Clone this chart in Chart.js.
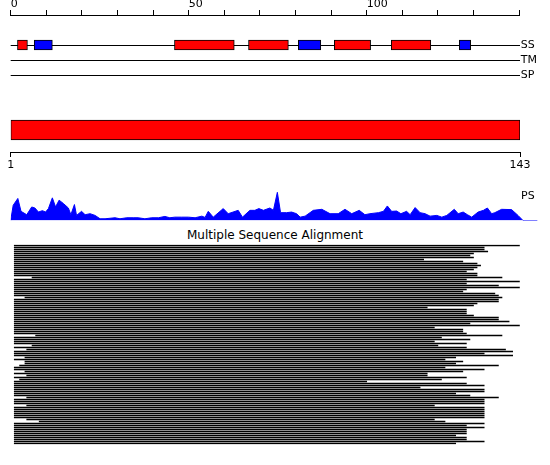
<!DOCTYPE html>
<html>
<head>
<meta charset="utf-8">
<script src="https://cdn.jsdelivr.net/npm/chart.js@4/dist/chart.umd.min.js"></script>
<style>
  body { margin: 0; background: #fff; }
  #wrap { position: relative; width: 550px; height: 465px; overflow: hidden; font-family: "DejaVu Sans", sans-serif; }
  canvas { position: absolute; left: 0; }
  .lbl { position: absolute; font-size: 11px; line-height: 13px; color: #000; white-space: nowrap; }
</style>
</head>
<body>
<div id="wrap">
  <canvas id="ssChart" width="550" height="90" style="top:0px"></canvas>
  <canvas id="domChart" width="550" height="77" style="top:100px"></canvas>
  <canvas id="psChart" width="550" height="40" style="top:185px"></canvas>
  <div class="lbl" style="left:521px; top:189px;">PS</div>
  <div class="lbl" style="left:0; width:550px; top:229px; text-align:center; font-size:12px;">Multiple Sequence Alignment</div>
  <canvas id="msaChart" width="550" height="210" style="top:240px"></canvas>
</div>
<script>
const SEQ_LENGTH = 143;
const TRACKS = ['SS', 'TM', 'SP'];

// secondary structure elements (H = helix, E = strand)
const SS_START = [1.9, 6.6, 46, 66.8, 80.8, 90.9, 106.9, 126];
const SS_END = [4.7, 11.7, 62.8, 78, 87.1, 101.1, 118, 129.2];
const SS_TYPE = ['H', 'E', 'H', 'H', 'E', 'H', 'H', 'E'];

const DOMAIN = [1, 143];

// PS profile
const PS_POS = [0, 0.7, 2, 2.9, 4.5, 5.9, 6.8, 7.8, 8.9, 9.8, 10.6, 11.7, 12.6, 13.6, 14.8, 16.2, 16.9, 17.9, 18.5, 19.9,
  20.9, 22.3, 23.7, 25.1, 26.5, 29.3, 30.7, 32.6, 34.4, 35.8, 37.7, 39.6, 41.5, 43.3, 44.7, 46.1, 48, 49.9, 51.8, 53.7,
  54.6, 55.5, 56.9, 59.7, 61.1, 63.9, 65.1, 67.2, 68.6, 69.7, 71, 72.8, 73.8, 74.9, 75.8, 77.5, 78.9, 80.3, 81.3, 82.7,
  85, 87.4, 89.7, 92, 93.9, 95.8, 97.9, 99.5, 100.9, 103.3, 104.7, 105.8, 107, 108.4, 109.6, 111.2, 112.2, 113.6, 115, 116.4,
  117.8, 119.7, 121.1, 122.5, 124.6, 125.7, 127.1, 128.3, 129.5, 131.3, 132.8, 133.9, 135.1, 136, 137.9, 140.7, 142.5, 143.9, 148];
const PS_VAL = [0, 15, 21.7, 9, 5.7, 13.3, 12.3, 8.3, 9.7, 8.3, 11.7, 22.3, 13.3, 20, 16.7, 12.3, 5.7, 15.7, 5, 9,
  5.7, 6.7, 5, 1.7, 1.7, 2.7, 1.7, 2.7, 2.7, 2.7, 1.7, 2.7, 2.7, 4, 2.7, 3.3, 3.3, 3.3, 2.7, 4.3,
  3, 9, 3.3, 11.7, 6.7, 10, 3.3, 10, 10, 11.7, 10, 12.3, 10, 27.7, 7.7, 7.7, 8.3, 6.7, 3.3, 4.3,
  10, 11, 6.7, 6.7, 11, 6.7, 10, 5.7, 6.7, 7.7, 9, 14.3, 9, 9.3, 6.7, 9, 5.7, 12.7, 7.7, 6.7,
  4.3, 5, 3.3, 5, 11, 6.7, 8.3, 5.7, 3.3, 8.3, 10, 12.3, 6.7, 7.7, 11, 10.7, 5, 0, 0];

// alignment hits: start / end residue
const MSA_START = [
  1, 1, 1, 1, 1, 1, 1, 1, 1, 1,
  1, 1, 1, 1, 1, 1, 6, 1, 1, 1,
  1, 1, 1, 1, 1, 1, 4, 1, 1, 1,
  1, 1, 1, 1, 1, 1, 1, 1, 1, 1,
  1, 1, 1, 1, 1, 7, 1, 1, 1, 1,
  6, 1, 4.5, 1, 1, 1, 4, 1, 4, 4,
  2.5, 1, 1, 4, 1, 4.5, 1, 2.5, 1, 1,
  1, 1, 1, 1, 1, 1, 4.5, 1, 1, 1,
  4.5, 1, 1, 1, 1, 1, 1, 4.5, 8, 1,
  1, 1, 1, 1, 1, 1, 1, 1, 1, 1];
const MSA_END = [
  143, 133, 133, 134, 130, 129, 130, 116, 127, 131,
  132, 131, 130, 128, 131, 131, 138, 128, 143, 128,
  137, 143, 128, 127, 136, 137, 138, 137, 137, 131,
  130, 117, 128, 128, 128, 130, 137, 137, 140, 129,
  143, 119, 127, 127, 128, 138, 121, 129, 119, 128,
  120, 128, 139, 141, 133, 141, 125, 122, 127, 125,
  137, 122, 133, 127, 117, 117, 128, 121, 100, 128,
  133, 115, 133, 133, 125, 129, 137, 133, 133, 133,
  119, 133, 133, 133, 133, 133, 133, 119, 122, 133,
  128, 133, 128, 128, 128, 125, 128, 128, 133, 125];

const font = { family: 'DejaVu Sans', size: 11 };
const noPlugins = { legend: { display: false }, tooltip: { enabled: false } };

// top ruler + SS / TM / SP tracks
new Chart(document.getElementById('ssChart'), {
  type: 'bar',
  data: {
    datasets: [{
      data: SS_START.map((s, i) => ({ x: [s, SS_END[i]], y: 1 })),
      backgroundColor: SS_TYPE.map(t => t === 'H' ? '#ff0000' : '#0000ff'),
      borderColor: '#000',
      borderWidth: 1,
      borderSkipped: false,
      barThickness: 10
    }]
  },
  options: {
    indexAxis: 'y',
    responsive: false,
    animation: false,
    layout: { padding: { left: 10.7, top: 0, right: 0, bottom: 0 } },
    plugins: noPlugins,
    scales: {
      x: {
        type: 'linear', position: 'top', min: 0, max: SEQ_LENGTH,
        ticks: {
          stepSize: 10, align: 'start', padding: -1, color: '#000', font: font,
          maxRotation: 0, autoSkip: false,
          callback: v => (v % 50 === 0 ? v : '')
        },
        grid: { drawOnChartArea: false, tickLength: 5, color: '#000' },
        border: { color: '#000' },
        afterFit: s => { s.height = 15; s.paddingLeft = 0; s.paddingRight = 0; }
      },
      y: {
        type: 'linear', position: 'right', reverse: true, min: -1, max: 4, offset: false,
        afterBuildTicks: s => { s.ticks = TRACKS.map((_, i) => ({ value: i + 1 })); },
        ticks: { callback: v => TRACKS[v - 1], padding: 1, color: '#000', font: font },
        grid: { color: '#000', drawTicks: false, offset: false },
        border: { display: false },
        afterFit: s => {
          s.width = 550 - (10.7 + SEQ_LENGTH * 3.56);
          s.paddingTop = 0;
          s.paddingBottom = 0;
        }
      }
    }
  }
});

// domain bar with 1..143 axis
new Chart(document.getElementById('domChart'), {
  type: 'bar',
  data: {
    labels: ['domain'],
    datasets: [{
      data: [DOMAIN],
      backgroundColor: '#ff0000',
      borderColor: '#000',
      borderWidth: 1,
      borderSkipped: false,
      barThickness: 20
    }]
  },
  options: {
    indexAxis: 'y',
    responsive: false,
    animation: false,
    layout: { padding: { left: 10.7, top: 8, right: 30, bottom: 0 } },
    plugins: noPlugins,
    scales: {
      x: {
        type: 'linear', position: 'bottom', min: DOMAIN[0], max: DOMAIN[1],
        afterBuildTicks: s => { s.ticks = DOMAIN.map(v => ({ value: v })); },
        ticks: { padding: 2, color: '#000', font: font, maxRotation: 0, autoSkip: false },
        grid: { drawOnChartArea: false, tickLength: 5, color: '#000' },
        border: { color: '#000' },
        afterFit: s => { s.height = 25; s.paddingLeft = 0; s.paddingRight = 0; }
      },
      y: { display: false }
    }
  }
});

// PS profile
new Chart(document.getElementById('psChart'), {
  type: 'line',
  data: {
    datasets: [{
      data: PS_POS.map((p, i) => ({ x: p, y: PS_VAL[i] })),
      borderColor: '#0000ff',
      backgroundColor: '#0000ff',
      borderWidth: 1,
      fill: 'origin',
      pointRadius: 0,
      tension: 0
    }]
  },
  options: {
    responsive: false,
    animation: false,
    layout: { padding: { left: 10.7, top: 5, right: 550 - (10.7 + 148 * 3.56), bottom: 4.5 } },
    plugins: noPlugins,
    scales: {
      x: { type: 'linear', min: 0, max: 148, display: false },
      y: { type: 'linear', min: 0, max: 30, display: false }
    }
  }
});

// multiple sequence alignment hits
new Chart(document.getElementById('msaChart'), {
  type: 'bar',
  data: {
    labels: MSA_START.map((_, i) => 'seq' + (i + 1)),
    datasets: [{
      data: MSA_START.map((s, i) => [s, MSA_END[i]]),
      backgroundColor: '#000',
      borderWidth: 0,
      barThickness: 1
    }]
  },
  options: {
    indexAxis: 'y',
    responsive: false,
    animation: false,
    layout: { padding: { left: 10.7, top: 4.5, right: 550 - (10.7 + SEQ_LENGTH * 3.56), bottom: 5.5 } },
    plugins: noPlugins,
    scales: {
      x: { type: 'linear', min: 0, max: SEQ_LENGTH, display: false },
      y: { display: false }
    }
  }
});
</script>
</body>
</html>
